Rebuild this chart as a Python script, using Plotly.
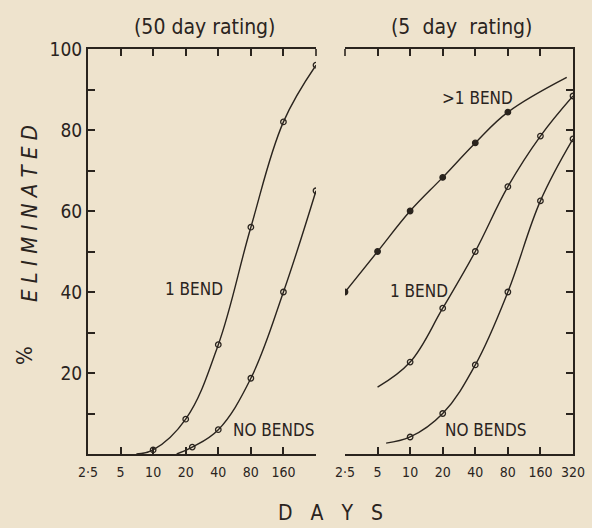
import numpy as np
import plotly.graph_objects as go

# ---- data -------------------------------------------------------------
# Left panel (50 day rating): observed points
left_one_bend_days = [10, 20, 40, 80, 160, 320]
left_one_bend_pct = [1, 8.6, 27, 56, 82, 96]
left_no_bends_days = [23, 40, 80, 160, 320]
left_no_bends_pct = [1.7, 6, 18.7, 40, 65]
# fitted curves drawn by hand through the points
left_one_bend_curve_days = [7, 10, 20, 40, 80, 160, 320]
left_one_bend_curve_pct = [0, 1, 8.6, 27, 56, 82, 96]
left_no_bends_curve_days = [16.5, 23, 40, 80, 160, 320]
left_no_bends_curve_pct = [0, 1.7, 6, 18.7, 40, 65]

# Right panel (5 day rating)
right_multi_bend_days = [2.5, 5, 10, 20, 40, 80]
right_multi_bend_pct = [40, 50, 60, 68.3, 76.8, 84.4]
right_one_bend_days = [10, 20, 40, 80, 160, 320]
right_one_bend_pct = [22.7, 36, 50, 66, 78.5, 88.4]
right_no_bends_days = [10, 20, 40, 80, 160, 320]
right_no_bends_pct = [4.2, 10, 22, 40, 62.5, 77.8]
right_multi_bend_curve_days = [2.5, 5, 10, 20, 40, 80, 280]
right_multi_bend_curve_pct = [40, 50, 60, 68.3, 76.8, 84.4, 93]
right_one_bend_curve_days = [5, 10, 20, 40, 80, 160, 320]
right_one_bend_curve_pct = [16.5, 22.7, 36, 50, 66, 78.5, 88.4]
right_no_bends_curve_days = [6, 10, 20, 40, 80, 160, 320]
right_no_bends_curve_pct = [2.7, 4.2, 10, 22, 40, 62.5, 77.8]

day_ticks = [2.5, 5, 10, 20, 40, 80, 160, 320]
left_day_labels = ["2·5", "5", "10", "20", "40", "80", "160", ""]
right_day_labels = ["2·5", "5", "10", "20", "40", "80", "160", "320"]
pct_ticks = [10, 20, 30, 40, 50, 60, 70, 80, 90, 100]
pct_labels = ["", "20", "", "40", "", "60", "", "80", "", "100"]

# ---- styling ----------------------------------------------------------
W, H = 592, 528
INK = "rgb(42,36,30)"
PAPER = "rgb(238,227,205)"
FONT = "DejaVu Sans Condensed, Liberation Sans Narrow, DejaVu Sans, sans-serif"
NB = "\u00a0"


def px(x):
    return x / W


def py(y):
    return 1 - y / H


def spaced(word, gap=1):
    return (NB * gap).join(word)


fig = go.Figure()


def curve(xs, ys, xa, ya):
    fig.add_trace(go.Scatter(x=xs, y=ys, mode="lines", xaxis=xa, yaxis=ya,
                             line=dict(color=INK, width=1.4, shape="spline", smoothing=1.1),
                             hoverinfo="skip", showlegend=False))


def points(xs, ys, xa, ya, filled):
    fig.add_trace(go.Scatter(x=xs, y=ys, mode="markers", xaxis=xa, yaxis=ya,
                             marker=dict(symbol="circle" if filled else "circle-open",
                                         size=5.5,
                                         color=INK, line=dict(color=INK, width=1.3)),
                             showlegend=False))


curve(left_one_bend_curve_days, left_one_bend_curve_pct, "x", "y")
curve(left_no_bends_curve_days, left_no_bends_curve_pct, "x", "y")
points(left_one_bend_days, left_one_bend_pct, "x", "y", False)
points(left_no_bends_days, left_no_bends_pct, "x", "y", False)

curve(right_multi_bend_curve_days, right_multi_bend_curve_pct, "x2", "y2")
curve(right_one_bend_curve_days, right_one_bend_curve_pct, "x2", "y2")
curve(right_no_bends_curve_days, right_no_bends_curve_pct, "x2", "y2")
points(right_multi_bend_days, right_multi_bend_pct, "x2", "y2", True)
points(right_one_bend_days, right_one_bend_pct, "x2", "y2", False)
points(right_no_bends_days, right_no_bends_pct, "x2", "y2", False)

xrange = [np.log10(2.5), np.log10(320)]
ydom = [py(454), py(49)]

xcommon = dict(type="log", range=xrange, showgrid=False, zeroline=False,
               showline=True, linecolor=INK, linewidth=2, mirror="ticks",
               ticks="inside", ticklen=7, tickwidth=1.6, tickcolor=INK,
               automargin=False,
               tickvals=day_ticks, tickfont=dict(family=FONT, size=14, color=INK))
ycommon = dict(range=[0, 100], showgrid=False, zeroline=False,
               showline=True, linecolor=INK, linewidth=2,
               ticks="inside", ticklen=7, tickwidth=1.6, tickcolor=INK,
               automargin=False,
               tickvals=pct_ticks, domain=ydom)

fig.update_layout(
    width=W, height=H,
    margin=dict(l=0, r=0, t=0, b=0, pad=0),
    paper_bgcolor=PAPER, plot_bgcolor=PAPER,
    font=dict(family=FONT, color=INK),
    xaxis=dict(xcommon, domain=[px(88), px(316)], anchor="y",
               ticktext=left_day_labels, ticklabelstandoff=4),
    xaxis2=dict(xcommon, domain=[px(345), px(573)], anchor="y2",
                ticktext=right_day_labels, ticklabelstandoff=4),
    yaxis=dict(ycommon, anchor="x", side="left", ticktext=pct_labels,
               tickfont=dict(family=FONT, size=19, color=INK)),
    yaxis2=dict(ycommon, anchor="x2", side="right", showticklabels=False),
)

ann = []


def text(s, x, y, size, angle=0):
    ann.append(dict(text=s, x=px(x), y=py(y), xref="paper", yref="paper",
                    xanchor="center", yanchor="middle",
                    showarrow=False, textangle=angle,
                    font=dict(family=FONT, size=size, color=INK)))


text("(50" + NB + "day" + NB + "rating)", 205, 27, 21)
text("(5" + NB * 2 + "day" + NB * 2 + "rating)", 461, 27, 21)
text("1 BEND", 194, 289, 17)
text("NO BENDS", 273, 430, 17)
text(">1 BEND", 477, 98, 17)
text("1 BEND", 419, 291, 17)
text("NO BENDS", 485, 430, 17)
text(spaced("DAYS", 3), 330, 513, 21)
text("<i>" + spaced("ELIMINATED") + "</i>", 29, 214, 22, angle=-90)
text("%", 24, 356, 22, angle=-90)
fig.update_layout(annotations=ann)

# end ticks where the two panels face each other
fig.add_shape(type="line", xref="paper", yref="paper",
              x0=px(316), x1=px(316), y0=py(49), y1=py(56),
              line=dict(color=INK, width=1.6))
fig.add_shape(type="line", xref="paper", yref="paper",
              x0=px(345), x1=px(345), y0=py(49), y1=py(56),
              line=dict(color=INK, width=1.6))

fig.write_html("out.html")
